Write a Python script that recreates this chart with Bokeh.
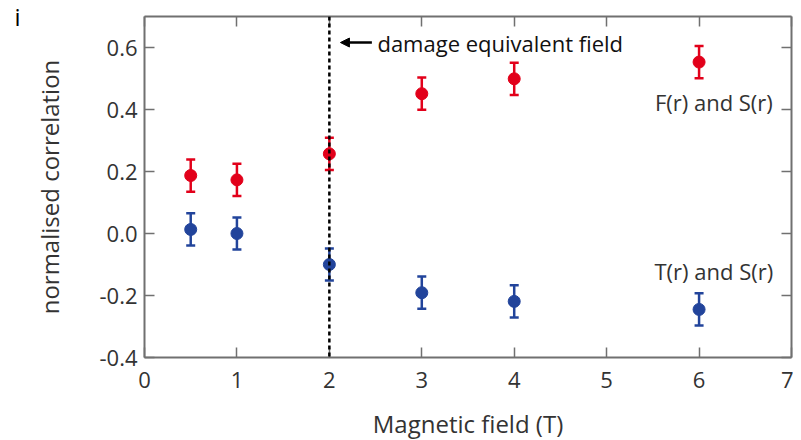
from bokeh.plotting import figure
from bokeh.models import (ColumnDataSource, Whisker, TeeHead, Span, Arrow, NormalHead,
                          Label, LinearAxis, FixedTicker, NumeralTickFormatter, Range1d)
from bokeh.embed import file_html
from bokeh.resources import INLINE

# ---- data ----
field = [0.5, 1, 2, 3, 4, 6]
f_corr = [0.187, 0.173, 0.257, 0.451, 0.499, 0.553]
t_corr = [0.013, 0.0, -0.100, -0.191, -0.219, -0.245]
f_err = [0.052, 0.052, 0.052, 0.052, 0.052, 0.052]
t_err = [0.052, 0.052, 0.052, 0.052, 0.052, 0.052]
x_ticks = [0, 1, 2, 3, 4, 5, 6, 7]
y_ticks = [-0.4, -0.2, 0.0, 0.2, 0.4, 0.6]
damage_field = 2

RED = "#e2001a"
BLUE = "#22449b"
AX = "#707070"
TXT = "#333333"
FONT = "Open Sans"

p = figure(frame_width=647, frame_height=341, output_backend="svg", toolbar_location=None,
           x_range=Range1d(0, 7), y_range=Range1d(-0.4, 0.7),
           min_border_left=144, min_border_right=2, min_border_top=16, min_border_bottom=80,
           x_axis_label="Magnetic field (T)", y_axis_label="normalised correlation")
p.outline_line_color = None
p.grid.visible = False
p.background_fill_color = "white"
p.border_fill_color = "white"

def style(ax, labels=True):
    ax.axis_line_color = AX
    ax.axis_line_width = 2
    ax.major_tick_line_color = AX
    ax.major_tick_line_width = 1.5
    ax.major_tick_in = 10
    ax.major_tick_out = 0
    ax.minor_tick_line_color = None
    ax.major_label_text_font = FONT
    ax.major_label_text_font_size = "22px"
    ax.major_label_text_color = TXT
    ax.axis_label_text_font = FONT
    ax.axis_label_text_font_size = "24px"
    ax.axis_label_text_font_style = "normal"
    ax.axis_label_text_color = TXT
    if not labels:
        ax.major_label_overrides = {t: "" for t in ax.ticker.ticks}
        ax.major_label_standoff = 0

xa = p.xaxis[0]
ya = p.yaxis[0]
xa.ticker = FixedTicker(ticks=x_ticks)
ya.ticker = FixedTicker(ticks=y_ticks)
ya.formatter = NumeralTickFormatter(format="0.0")
style(xa)
style(ya)
xa.major_label_standoff = 14
xa.axis_label_standoff = 16
ya.major_label_standoff = 7
ya.axis_label_standoff = 30

top = LinearAxis(ticker=FixedTicker(ticks=x_ticks))
style(top, labels=False)
p.add_layout(top, "above")
right = LinearAxis(ticker=FixedTicker(ticks=y_ticks))
style(right, labels=False)
p.add_layout(right, "right")

# panel letter "i" as the label of an invisible outer left axis
panel_axis = LinearAxis(ticker=FixedTicker(ticks=[]), axis_label="i")
panel_axis.axis_line_color = None
panel_axis.major_tick_line_color = None
panel_axis.minor_tick_line_color = None
panel_axis.major_label_standoff = 0
panel_axis.axis_label_orientation = "horizontal"
panel_axis.axis_label_align = "end"
panel_axis.axis_label_standoff = 10
panel_axis.axis_label_text_font = FONT
panel_axis.axis_label_text_font_size = "24px"
panel_axis.axis_label_text_font_style = "normal"
panel_axis.axis_label_text_color = "black"
p.add_layout(panel_axis, "left")

# dashed line at damage equivalent field
p.add_layout(Span(location=damage_field, dimension="height", line_color="black",
                  line_width=2.5, line_dash="4 3"))

src_f = ColumnDataSource(dict(x=field, y=f_corr,
                              lo=[a - e for a, e in zip(f_corr, f_err)],
                              hi=[a + e for a, e in zip(f_corr, f_err)]))
src_t = ColumnDataSource(dict(x=field, y=t_corr,
                              lo=[a - e for a, e in zip(t_corr, t_err)],
                              hi=[a + e for a, e in zip(t_corr, t_err)]))

for src, col in ((src_f, RED), (src_t, BLUE)):
    w = Whisker(source=src, base="x", upper="hi", lower="lo", dimension="height",
                line_color=col, line_width=2.5,
                upper_head=TeeHead(size=9, line_color=col, line_width=2.5),
                lower_head=TeeHead(size=9, line_color=col, line_width=2.5))
    p.add_layout(w)
    p.scatter("x", "y", source=src, size=12, fill_color=col, line_color=col)

# annotation
p.add_layout(Arrow(x_start=2.46, y_start=0.616, x_end=2.12, y_end=0.616,
                   line_color="black", line_width=2.5,
                   end=NormalHead(size=9, fill_color="black", line_color="black")))
p.add_layout(Label(x=2.52, y=0.616, text="damage equivalent field", text_font=FONT,
                   text_font_size="22px", text_color="#111111", text_baseline="middle"))
p.add_layout(Label(x=6.16, y=0.423, text="F(r) and S(r)", text_font=FONT,
                   text_font_size="22px", text_color=TXT, text_align="center",
                   text_baseline="middle"))
p.add_layout(Label(x=6.16, y=-0.12, text="T(r) and S(r)", text_font=FONT,
                   text_font_size="22px", text_color=TXT, text_align="center",
                   text_baseline="middle"))

open("out.html", "w").write(file_html(p, INLINE))
